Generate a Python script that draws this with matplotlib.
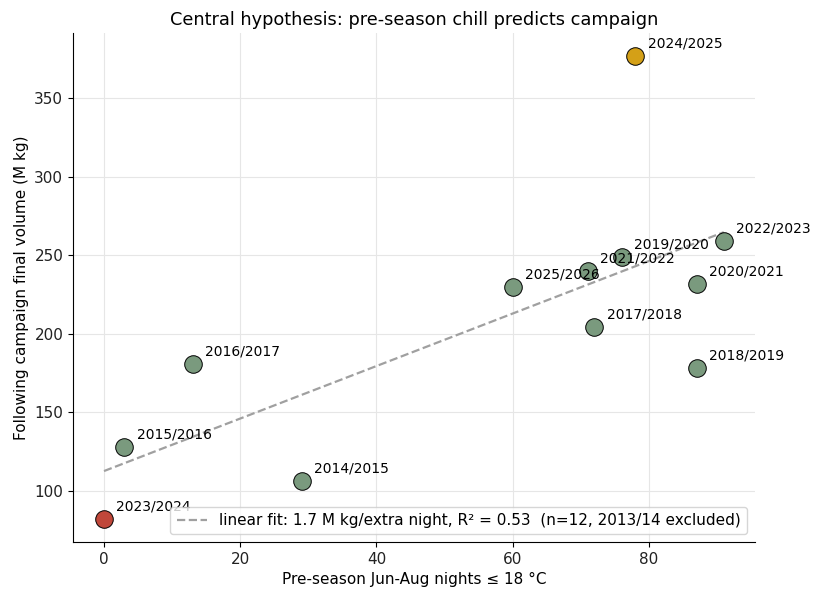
import numpy as np
import matplotlib
matplotlib.use("Agg")
import matplotlib.pyplot as plt

seasons = ["2014/2015", "2015/2016", "2016/2017", "2017/2018", "2018/2019",
           "2019/2020", "2020/2021", "2021/2022", "2022/2023", "2023/2024",
           "2024/2025", "2025/2026"]
nights = [29, 3, 13, 72, 87, 76, 87, 71, 91, 0, 78, 60]
volume = [106, 128, 181, 204, 178, 249, 232, 240, 259, 82, 377, 230]

GREEN = "#7a9a7e"
colors = {"2023/2024": "#c0473a", "2024/2025": "#d4a017"}

fig = plt.figure(figsize=(8.24, 6.0), dpi=100)
ax = fig.add_axes([0.0886, 0.0967, 0.8274, 0.8483])

x = np.array(nights, dtype=float)
y = np.array(volume, dtype=float)
slope, intercept = np.polyfit(x, y, 1)
xs = np.array([x.min(), x.max()])
ax.plot(xs, intercept + slope * xs, ls="--", color="#a0a0a0", lw=1.6,
        label="linear fit: 1.7 M kg/extra night, R\u00b2 = 0.53  (n=12, 2013/14 excluded)",
        zorder=2)

for s, xi, yi in zip(seasons, nights, volume):
    ax.scatter(xi, yi, s=160, color=colors.get(s, GREEN), edgecolor="black",
               linewidth=0.7, zorder=3)
    ax.annotate(s, (xi, yi), xytext=(9, 4), textcoords="offset points",
                fontsize=10, va="bottom", ha="left", zorder=4)

ax.grid(True, color="#e6e6e6", lw=0.8)
ax.set_axisbelow(True)
for sp in ["top", "right"]:
    ax.spines[sp].set_visible(False)
ax.tick_params(labelsize=11, labelcolor="#222222")
ax.set_xlabel("Pre-season Jun-Aug nights \u2264 18 \u00b0C", fontsize=11)
ax.set_ylabel("Following campaign final volume (M kg)", fontsize=11)
ax.set_title("Central hypothesis: pre-season chill predicts campaign", fontsize=12.8)
ax.legend(loc="lower right", fontsize=11)

fig.savefig("out.png", dpi=100)
